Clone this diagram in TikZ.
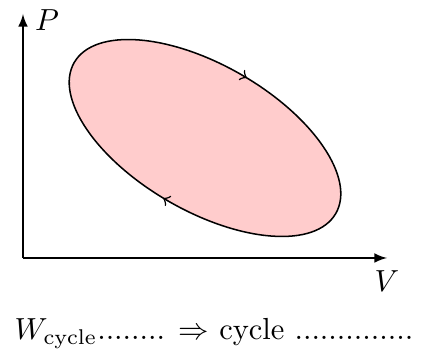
\documentclass[tikz,border=0pt]{standalone}
\usetikzlibrary{decorations.markings}
\begin{document}
\begin{tikzpicture}[x=0.328pt,y=0.328pt,
  axis/.style={-latex, line width=0.45pt},
  cyc/.style={draw=black, line width=0.5pt, fill=red!20, postaction={decorate},
    decoration={markings,
      mark=at position 0.25 with {\arrow{<}},
      mark=at position 0.75 with {\arrow{<}}}}]
\useasboundingbox (0,0) rectangle (425,356);
\coordinate (O) at (23,98);
\coordinate (Ytop) at (23,342);
\coordinate (Xend) at (387,98);
\coordinate (C) at (205,218);
\draw[axis] (O) -- (Ytop);
\draw[axis] (O) -- (Xend);
\node (P) at (47,336) {$P$};
\node (V) at (387,75) {$V$};
\path[cyc, rotate around={-30:(C)}] (C) ellipse [x radius=151, y radius=73];
\node[anchor=base] (cap) at (214,16) {$W_{\mathrm{cycle}}$........ $\Rightarrow$ cycle ..............};
\end{tikzpicture}
\end{document}
